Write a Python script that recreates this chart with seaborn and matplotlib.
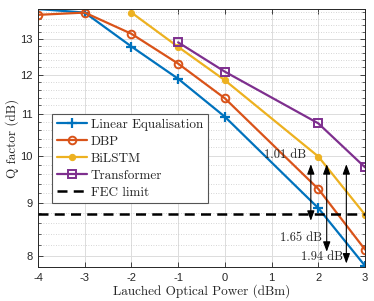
import numpy as np
import pandas as pd
import matplotlib
matplotlib.use("Agg")
import matplotlib.pyplot as plt
import seaborn as sns
from matplotlib.ticker import FixedLocator, FixedFormatter, NullFormatter

# ---- data ----
power = [-4, -3, -2, -1, 0, 2, 3]
linear_eq = [13.9, 13.79, 12.78, 11.89, 10.92, 8.90, 7.82]
dbp = [13.72, 13.79, 13.15, 12.30, 11.38, 9.29, 8.11]
bilstm_x = [-2, -1, 0, 2, 3]
bilstm = [13.79, 12.77, 11.85, 9.99, 8.77]
trans_x = [-1, 0, 2, 3]
transformer = [12.90, 12.08, 10.76, 9.75]
fec_limit = 8.79

series_names = ["Linear Equalisation", "DBP", "BiLSTM", "Transformer"]
xticks = [-4, -3, -2, -1, 0, 1, 2, 3]
xtick_labels = ["-4", "-3", "-2", "-1", "0", "1", "2", "3"]
yticks = [8, 9, 10, 11, 12, 13]
ytick_labels = ["8", "9", "10", "11", "12", "13"]

# gain annotations
arrow_x = [1.84, 2.18, 2.6]
arrow_top = [9.82, 9.82, 9.82]
arrow_bottom = [8.65, 8.07, 7.86]
gain_labels = ["1.01 dB", "1.65 dB", "1.94 dB"]
gain_label_x = [1.28, 1.63, 2.08]
gain_label_y = [10.02, 8.32, 7.97]

sns.set_style("white")
plt.rcParams["font.family"] = ["Liberation Sans", "DejaVu Sans"]
serif = "cmr10"

fig = plt.figure(figsize=(3.74, 3.01), dpi=100)
ax = fig.add_axes([0.1016, 0.113, 0.8744, 0.857])

colors = ["#0072BD", "#D95319", "#EDB120", "#7E2F8E"]

df_lin = pd.DataFrame({"x": power, "y": linear_eq})
df_dbp = pd.DataFrame({"x": power, "y": dbp})
df_bi = pd.DataFrame({"x": bilstm_x, "y": bilstm})
df_tr = pd.DataFrame({"x": trans_x, "y": transformer})

sns.lineplot(data=df_lin, x="x", y="y", ax=ax, color=colors[0], lw=1.6,
             marker="+", markersize=7, markeredgewidth=1.6, markeredgecolor=colors[0],
             label=series_names[0])
sns.lineplot(data=df_dbp, x="x", y="y", ax=ax, color=colors[1], lw=1.6,
             marker="o", markersize=5.5, markerfacecolor="none", markeredgecolor=colors[1],
             markeredgewidth=1.4, label=series_names[1])
sns.lineplot(data=df_bi, x="x", y="y", ax=ax, color=colors[2], lw=1.6,
             marker="o", markersize=4.5, markerfacecolor=colors[2], markeredgecolor=colors[2],
             label=series_names[2])
sns.lineplot(data=df_tr, x="x", y="y", ax=ax, color=colors[3], lw=1.6,
             marker="s", markersize=5.5, markerfacecolor="none", markeredgecolor=colors[3],
             markeredgewidth=1.4, label=series_names[3])
ax.axhline(fec_limit, color="black", lw=1.8, ls=(0, (4, 2.5)), label="FEC limit", zorder=3)

ax.set_yscale("log")
ax.set_xlim(-4, 3)
ax.set_ylim(7.8, 13.9)

ax.xaxis.set_major_locator(FixedLocator(xticks))
ax.xaxis.set_major_formatter(FixedFormatter(xtick_labels))
ax.yaxis.set_major_locator(FixedLocator(yticks))
ax.yaxis.set_major_formatter(FixedFormatter(ytick_labels))
minor = [round(v, 1) for v in np.arange(7.8, 13.95, 0.2) if abs(v - round(v)) > 0.05]
ax.yaxis.set_minor_locator(FixedLocator(minor))
ax.yaxis.set_minor_formatter(NullFormatter())

ax.grid(True, which="major", color="#dcdcdc", lw=0.7)
ax.grid(True, which="minor", axis="y", color="#c8c8c8", lw=0.6, ls=(0, (1, 2)))
ax.set_axisbelow(True)

ax.tick_params(which="both", direction="in", top=True, right=True, left=True, bottom=True,
               color="#262626", labelsize=8, labelcolor="#262626", pad=4)
ax.tick_params(which="major", length=3.5, width=0.6)
ax.tick_params(which="minor", length=2, width=0.5)
ax.tick_params(axis="x", which="minor", top=False, bottom=False)
for s in ax.spines.values():
    s.set_color("#262626")
    s.set_linewidth(0.7)

ax.set_xlabel("Lauched Optical Power (dBm)", fontfamily=serif, fontsize=9.5, labelpad=1)
ax.set_ylabel("Q factor (dB)", fontfamily=serif, fontsize=9.5, labelpad=1)

for x, yt, yb in zip(arrow_x, arrow_top, arrow_bottom):
    ax.annotate("", xy=(x, yt), xytext=(x, yb),
                arrowprops=dict(arrowstyle="<|-|>,head_length=0.6,head_width=0.22",
                                color="black", lw=0.8, shrinkA=0, shrinkB=0), zorder=5)
for lx, ly, t in zip(gain_label_x, gain_label_y, gain_labels):
    ax.text(lx, ly, t, fontfamily=serif, fontsize=9, ha="center", va="center", zorder=6)

leg = ax.legend(loc="upper left", bbox_to_anchor=(0.139, 0.621), bbox_transform=fig.transFigure,
                borderaxespad=0, prop={"family": serif, "size": 9.5}, fancybox=False,
                framealpha=1, edgecolor="#555555", handlelength=2.3, handletextpad=0.3,
                labelspacing=0.36, borderpad=0.35)
leg.get_frame().set_linewidth(0.8)

fig.savefig("out.png", dpi=100)
